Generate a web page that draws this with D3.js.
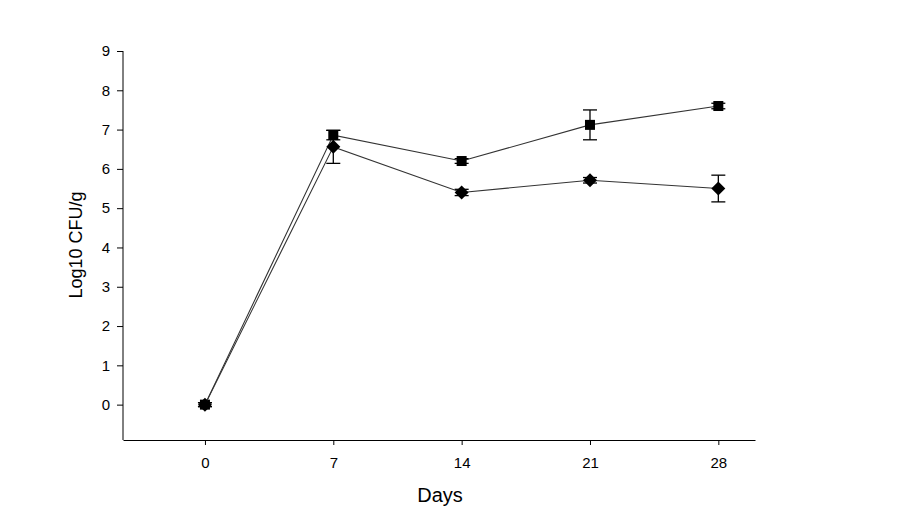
<!DOCTYPE html>
<html><head><meta charset="utf-8">
<script src="https://cdn.jsdelivr.net/npm/d3@7"></script>
<style>body{margin:0;background:#fff}svg{display:block}text{font-family:"Liberation Sans",Arial,sans-serif;fill:#000}</style>
</head><body><svg id="c" width="915" height="526"></svg>
<script>
const days = [0, 7, 14, 21, 28];
const squareMean = [0, 6.86, 6.2, 7.12, 7.6];
const squareErr = [0.05, 0.12, 0.06, 0.38, 0.07];
const diamondMean = [0, 6.56, 5.4, 5.71, 5.5];
const diamondErr = [0.05, 0.42, 0.08, 0.07, 0.34];
const yTicks = [0,1,2,3,4,5,6,7,8,9];

const svg = d3.select("#c");
const x = d3.scaleLinear().domain([-4.47, 30]).range([123, 755]);
const y = d3.scaleLinear().domain([-0.9, 9]).range([440, 51]);

// axes
const ax = svg.append("g").attr("transform","translate(0,440)")
  .call(d3.axisBottom(x).tickValues(days).tickSize(5).tickPadding(12).tickSizeOuter(0));
ax.select(".domain").attr("stroke","#000");
ax.selectAll("text").attr("font-size",15);
const ay = svg.append("g").attr("transform","translate(123,0)")
  .call(d3.axisLeft(y).tickValues(yTicks).tickSize(6).tickPadding(7).tickSizeOuter(0));
ay.selectAll("text").attr("font-size",15);
ay.select(".domain").attr("d","M0,440V51");

svg.append("text").attr("x",440).attr("y",502).attr("text-anchor","middle").attr("font-size",20).text("Days");
svg.append("text").attr("transform","translate(82,245) rotate(-90)").attr("text-anchor","middle").attr("font-size",18).text("Log10 CFU/g");

function series(means, errs, shape){
  const data = days.map((d,i)=>({d, m:means[i], e:errs[i]}));
  const line = d3.line().x(p=>x(p.d)).y(p=>y(p.m));
  svg.append("path").datum(data).attr("d",line).attr("fill","none").attr("stroke","#333").attr("stroke-width",1.1);
  const g = svg.append("g");
  data.forEach(p=>{
    const cx = x(p.d);
    g.append("line").attr("x1",cx).attr("x2",cx).attr("y1",y(p.m+p.e)).attr("y2",y(p.m-p.e)).attr("stroke","#000").attr("stroke-width",1.3);
    [p.m+p.e,p.m-p.e].forEach(v=>g.append("line").attr("x1",cx-7).attr("x2",cx+7).attr("y1",y(v)).attr("y2",y(v)).attr("stroke","#000").attr("stroke-width",1.3));
    if(shape==="square"){
      g.append("rect").attr("x",cx-5).attr("y",y(p.m)-5).attr("width",10).attr("height",10).attr("fill","#000");
    } else {
      const cy=y(p.m);
      g.append("path").attr("d",`M${cx},${cy-7}L${cx+7},${cy}L${cx},${cy+7}L${cx-7},${cy}Z`).attr("fill","#000");
    }
  });
}
series(squareMean, squareErr, "square");
series(diamondMean, diamondErr, "diamond");
</script></body></html>
